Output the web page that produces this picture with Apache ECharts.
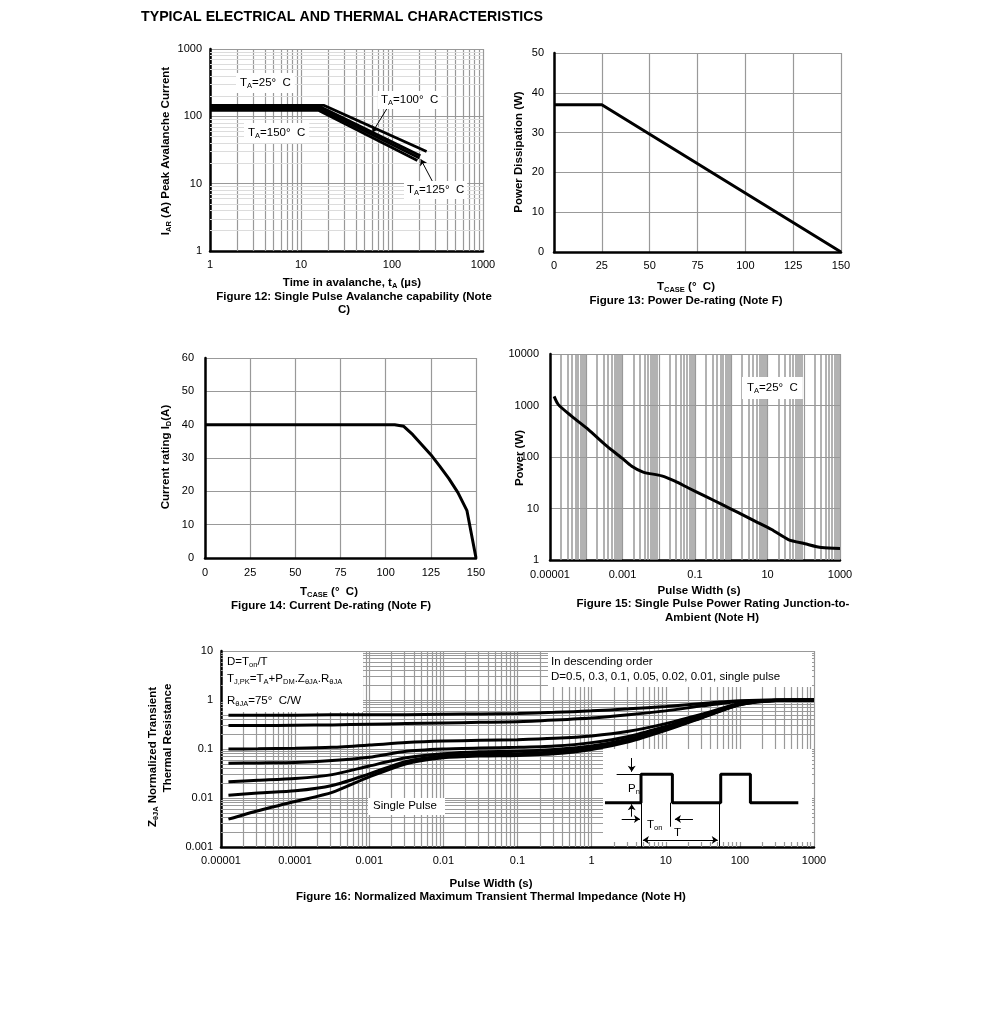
<!DOCTYPE html>
<html><head><meta charset="utf-8">
<script src="https://cdn.jsdelivr.net/npm/echarts@6/dist/echarts.min.js"></script>
<style>html,body{margin:0;padding:0;background:#fff}#c{width:991px;height:1011px}</style>
</head><body><div id="c"></div>
<script>
const FONT = '"Liberation Sans", Arial, Helvetica, sans-serif';

// ---------- Figure 12: avalanche ----------
const avalanche25 = [[1, 145], [18, 145], [240, 30]];
const avalanche100 = [[1, 137], [16.5, 137], [205, 26]];
const avalanche125 = [[1, 130], [16, 130], [200, 24]];
const avalanche150 = [[1, 123], [15.5, 123], [190, 22]];
const avalancheTicksX = ['1', '10', '100', '1000'];
const avalancheTicksY = ['1', '10', '100', '1000'];
const avalancheArrows = [
  [[90, 137], [61, 58]],
  [[300, 8.9], [207, 23]]
];

// ---------- Figure 13: power de-rating ----------
const powerTemp = [0, 25, 150];
const powerW = [37, 37, 0];

// ---------- Figure 14: current de-rating ----------
const currentTemp = [0, 105, 110, 115, 120, 125, 130, 135, 140, 145, 150];
const currentA = [40, 40, 39.5, 37, 34, 31, 27.5, 23.8, 19.6, 14.2, 0];

// ---------- Figure 15: single pulse power ----------
const pulseW15 = [1.3e-5, 1.7e-5, 4e-5, 1.15e-4, 3.3e-4, 9.5e-4, 1.8e-3, 3.7e-3, 0.012, 0.028, 0.066, 0.19, 0.55, 1.57, 4.5, 13, 37.6, 108, 309, 1000];
const power15 = [1500, 1040, 615, 340, 174, 96, 66, 51, 43, 34, 25, 17.4, 12, 8.3, 5.7, 3.9, 2.5, 2.07, 1.74, 1.68];
const ticks15X = ['0.00001', '', '0.001', '', '0.1', '', '10', '', '1000'];
const ticks15Y = ['1', '10', '100', '1000', '10000'];

// ---------- Figure 16: transient thermal impedance ----------
const pulseW16 = [1.26e-5, 3.16e-5, 1e-4, 3.16e-4, 1e-3, 3.16e-3, 0.01, 0.0316, 0.1, 0.316, 1, 3.16, 10, 31.6, 100, 316, 1000];
const zD05 = [0.49, 0.49, 0.49, 0.50, 0.50, 0.50, 0.51, 0.52, 0.53, 0.56, 0.60, 0.66, 0.74, 0.85, 0.96, 1.0, 1.0];
const zD03 = [0.30, 0.30, 0.305, 0.31, 0.32, 0.33, 0.34, 0.35, 0.36, 0.39, 0.43, 0.50, 0.60, 0.76, 0.93, 1.0, 1.0];
const zD01 = [0.100, 0.101, 0.103, 0.108, 0.12, 0.135, 0.145, 0.15, 0.155, 0.165, 0.185, 0.23, 0.33, 0.52, 0.85, 0.99, 1.0];
const zD005 = [0.051, 0.052, 0.053, 0.058, 0.068, 0.09, 0.10, 0.105, 0.108, 0.115, 0.135, 0.18, 0.29, 0.49, 0.83, 0.99, 1.0];
const zD002 = [0.0215, 0.023, 0.025, 0.030, 0.045, 0.066, 0.08, 0.088, 0.09, 0.098, 0.115, 0.16, 0.26, 0.46, 0.82, 0.99, 1.0];
const zD001 = [0.0114, 0.0127, 0.014, 0.018, 0.031, 0.056, 0.072, 0.078, 0.08, 0.088, 0.105, 0.15, 0.25, 0.45, 0.81, 0.98, 1.0];
const zSingle = [0.0037, 0.0055, 0.0085, 0.013, 0.027, 0.05, 0.066, 0.072, 0.074, 0.08, 0.098, 0.14, 0.24, 0.44, 0.80, 0.98, 1.0];
const ticks16X = ['0.00001', '0.0001', '0.001', '0.01', '0.1', '1', '10', '100', '1000'];
const ticks16Y = ['0.001', '0.01', '0.1', '1', '10'];

// inset pulse schematic (inset units 0..100)
const insetPulse = [[1.4, 45.2], [18.4, 45.2], [18.4, 74.2], [33.2, 74.2], [33.2, 45.2], [56, 45.2], [56, 74.2], [70, 74.2], [70, 45.2], [92.6, 45.2]];
const insetPlainLines = [
  [[6.9, 74.2], [18.4, 74.2]],
  [[18.4, 45.2], [18.4, 0]],
  [[32.4, 45.2], [32.4, 20.7]],
  [[55.2, 45.2], [55.2, 1]]
];
const insetArrowLines = [
  [[14, 90.8], [14, 76.8]],
  [[14, 30.9], [14, 43.6]],
  [[9.3, 28.6], [17.9, 28.6]],
  [[42.9, 28.6], [34.4, 28.6]]
];
const insetDoubleArrow = [[[19.3, 7.1], [54.6, 7.1]]];

// ---------- helpers ----------
const LBL = { color: '#000', fontSize: 11, fontFamily: FONT };
const RICH = {
  r: { fontSize: 11.5, fontFamily: FONT, color: '#000', lineHeight: 14 },
  s: { fontSize: 7.5, fontFamily: FONT, color: '#000', lineHeight: 8, verticalAlign: 'bottom' },
  b: { fontSize: 11.5, fontFamily: FONT, fontWeight: 'bold', color: '#000', lineHeight: 14 },
  bs: { fontSize: 7.5, fontFamily: FONT, fontWeight: 'bold', color: '#000', lineHeight: 8, verticalAlign: 'bottom' }
};
function minorVals(e0, e1) {
  const out = [];
  for (let e = e0; e < e1; e++) for (let k = 2; k <= 9; k++) out.push(k * Math.pow(10, e));
  return out;
}
const AXLINE = { show: true, onZero: false, lineStyle: { color: '#000', width: 2.5 } };
function logAxis(gi, e0, e1, labels, margin, split) {
  return {
    type: 'log', logBase: 10, gridIndex: gi, min: Math.pow(10, e0), max: Math.pow(10, e1),
    axisLine: AXLINE, axisTick: { show: false },
    splitLine: { show: true, lineStyle: { color: split || '#999', width: 1.2 } },
    axisLabel: Object.assign({}, LBL, {
      margin: margin,
      formatter: v => { const i = Math.round(Math.log10(v)) - e0; return labels[i] !== undefined ? labels[i] : ''; }
    })
  };
}
function valAxis(gi, min, max, interval, margin) {
  return {
    type: 'value', gridIndex: gi, min, max, interval,
    axisLine: AXLINE, axisTick: { show: false },
    splitLine: { show: true, lineStyle: { color: '#999', width: 1.2 } },
    axisLabel: Object.assign({}, LBL, { margin })
  };
}
// minor log grid lines drawn as segments through the axis scales
function gridLines(ai, vals, dim, lo, hi, color, width) {
  return {
    type: 'lines', coordinateSystem: 'cartesian2d', xAxisIndex: ai, yAxisIndex: ai, z: 1, silent: true,
    symbol: ['none', 'none'], animation: false,
    lineStyle: { color, width, opacity: 1 },
    data: vals.map(v => ({ coords: dim === 'x' ? [[v, lo], [v, hi]] : [[lo, v], [hi, v]] }))
  };
}
function curve(ai, data, width, smooth) {
  return {
    type: 'line', xAxisIndex: ai, yAxisIndex: ai, data, symbol: 'none', z: 5, silent: true,
    smooth: smooth ? smooth : false,
    lineStyle: { color: '#000', width: width }, animation: false
  };
}
function zip(xs, ys) { return xs.map((x, i) => [x, ys[i]]); }
function linesSeries(ai, segs, sym, width) {
  return {
    type: 'lines', coordinateSystem: 'cartesian2d', xAxisIndex: ai, yAxisIndex: ai, z: 7, silent: true,
    symbol: sym, symbolSize: 6, animation: false,
    lineStyle: { color: '#000', width: width || 1, opacity: 1 },
    data: segs.map(c => ({ coords: c }))
  };
}
function T(x, y, text, o) {
  o = o || {};
  const st = {
    text, rich: RICH, fill: '#000',
    font: o.font || ('11.5px ' + FONT),
    textAlign: o.align || 'left', textVerticalAlign: 'middle',
    align: o.align || 'left', verticalAlign: 'middle'
  };
  if (o.bg) { st.backgroundColor = o.bg; st.padding = o.pad || [3, 3]; }
  return { type: 'text', x, y, z: 10, rotation: o.rot || 0, silent: true, style: st };
}
function R(x, y, w, h) {
  return { type: 'rect', z: 3, silent: true, shape: { x, y, width: w, height: h }, style: { fill: '#fff' } };
}
const BOLD = 'bold 11.5px ' + FONT;

const option = {
  backgroundColor: '#fff',
  animation: false,
  grid: [
    { left: 210, top: 49, width: 273, height: 202 },
    { left: 554, top: 53, width: 287, height: 199 },
    { left: 205, top: 358, width: 271, height: 200 },
    { left: 550, top: 354, width: 290, height: 206 },
    { left: 221, top: 651, width: 593, height: 196 },
    { left: 602, top: 749, width: 212, height: 98 }
  ],
  xAxis: [
    logAxis(0, 0, 3, avalancheTicksX, 8),
    valAxis(1, 0, 150, 25, 8),
    valAxis(2, 0, 150, 25, 9),
    logAxis(3, -5, 3, ticks15X, 9),
    logAxis(4, -5, 3, ticks16X, 8),
    { type: 'value', gridIndex: 5, min: 0, max: 100, show: false }
  ],
  yAxis: [
    logAxis(0, 0, 3, avalancheTicksY, 8),
    valAxis(1, 0, 50, 10, 10),
    valAxis(2, 0, 60, 10, 11),
    logAxis(3, 0, 4, ticks15Y, 11),
    logAxis(4, -3, 1, ticks16Y, 8),
    { type: 'value', gridIndex: 5, min: 0, max: 100, show: false }
  ],
  series: [
    // minor grid lines
    gridLines(0, minorVals(0, 3), 'x', 1, 1000, '#999', 1.2),
    gridLines(0, minorVals(0, 3), 'y', 1, 1000, '#dcdcdc', 1),
    gridLines(3, minorVals(-5, 3), 'x', 1, 10000, '#999', 1.5),
    gridLines(4, minorVals(-5, 3), 'x', 0.001, 10, '#9a9a9a', 1.2),
    gridLines(4, minorVals(-3, 1), 'y', 1e-5, 1000, '#9a9a9a', 1.2),
    // fig 12
    curve(0, avalanche25, 2.8),
    curve(0, avalanche100, 2.8),
    curve(0, avalanche125, 2.8),
    curve(0, avalanche150, 2.8),
    linesSeries(0, avalancheArrows, ['none', 'arrow'], 1),
    // fig 13
    curve(1, zip(powerTemp, powerW), 3),
    // fig 14
    curve(2, zip(currentTemp, currentA), 3),
    // fig 15
    curve(3, zip(pulseW15, power15), 3, 0.25),
    // fig 16
    curve(4, zip(pulseW16, zD05), 3, 0.25),
    curve(4, zip(pulseW16, zD03), 3, 0.25),
    curve(4, zip(pulseW16, zD01), 3, 0.25),
    curve(4, zip(pulseW16, zD005), 3, 0.25),
    curve(4, zip(pulseW16, zD002), 3, 0.25),
    curve(4, zip(pulseW16, zD001), 3, 0.25),
    curve(4, zip(pulseW16, zSingle), 3, 0.25),
    // inset
    Object.assign(curve(5, insetPulse, 3), { z: 7 }),
    linesSeries(5, insetPlainLines, ['none', 'none'], 1),
    linesSeries(5, insetArrowLines, ['none', 'arrow'], 1),
    linesSeries(5, insetDoubleArrow, ['arrow', 'arrow'], 1)
  ],
  graphic: { elements: [
    T(141, 17, 'TYPICAL ELECTRICAL AND THERMAL CHARACTERISTICS', { font: 'bold 14.2px ' + FONT }),
    // fig 12
    T(166, 151, '{b|I}{bs|AR}{b| (A) Peak Avalanche Current}', { font: BOLD, align: 'center', rot: Math.PI / 2 }),
    T(352, 283, '{b|Time in avalanche, t}{bs|A}{b| (µs)}', { font: BOLD, align: 'center' }),
    T(354, 297, 'Figure 12: Single Pulse Avalanche capability (Note', { font: BOLD, align: 'center' }),
    T(344, 310, 'C)', { font: BOLD, align: 'center' }),
    T(236, 83, '{r|T}{s|A}{r|=25°  C}', { bg: '#fff', pad: [3, 4] }),
    T(378, 100, '{r|T}{s|A}{r|=100°  C}', { bg: '#fff', pad: [2, 3] }),
    T(244, 133, '{r|T}{s|A}{r|=150°  C}', { bg: '#fff', pad: [3, 4] }),
    T(404, 190, '{r|T}{s|A}{r|=125°  C}', { bg: '#fff', pad: [2, 3] }),
    // fig 13
    T(519, 152, 'Power Dissipation (W)', { font: BOLD, align: 'center', rot: Math.PI / 2 }),
    T(686, 287, '{b|T}{bs|CASE}{b| (°  C)}', { font: BOLD, align: 'center' }),
    T(686, 301, 'Figure 13: Power De-rating (Note F)', { font: BOLD, align: 'center' }),
    // fig 14
    T(166, 457, '{b|Current rating I}{bs|D}{b|(A)}', { font: BOLD, align: 'center', rot: Math.PI / 2 }),
    T(329, 592, '{b|T}{bs|CASE}{b| (°  C)}', { font: BOLD, align: 'center' }),
    T(331, 606, 'Figure 14: Current De-rating (Note F)', { font: BOLD, align: 'center' }),
    // fig 15
    T(520, 458, 'Power (W)', { font: BOLD, align: 'center', rot: Math.PI / 2 }),
    T(699, 591, 'Pulse Width (s)', { font: BOLD, align: 'center' }),
    T(713, 604, 'Figure 15: Single Pulse Power Rating Junction-to-', { font: BOLD, align: 'center' }),
    T(712, 618, 'Ambient (Note H)', { font: BOLD, align: 'center' }),
    T(742, 388, '{r|T}{s|A}{r|=25°  C}', { bg: '#fff', pad: [4, 5] }),
    // fig 16
    R(223, 652, 140, 60),
    R(548, 652, 264, 35),
    R(368, 798, 77, 17),
    R(603, 749, 209, 93),
    T(153, 757, '{b|Z}{bs|θJA}{b| Normalized Transient}', { font: BOLD, align: 'center', rot: Math.PI / 2 }),
    T(168, 738, 'Thermal Resistance', { font: BOLD, align: 'center', rot: Math.PI / 2 }),
    T(491, 884, 'Pulse Width (s)', { font: BOLD, align: 'center' }),
    T(491, 897, 'Figure 16: Normalized Maximum Transient Thermal Impedance (Note H)', { font: BOLD, align: 'center' }),
    T(227, 662, '{r|D=T}{s|on}{r|/T}'),
    T(227, 679, '{r|T}{s|J,PK}{r|=T}{s|A}{r|+P}{s|DM}{r|.Z}{s|θJA}{r|.R}{s|θJA}'),
    T(227, 701, '{r|R}{s|θJA}{r|=75°  C/W}'),
    T(551, 662, 'In descending order'),
    T(551, 677, 'D=0.5, 0.3, 0.1, 0.05, 0.02, 0.01, single pulse'),
    T(373, 806, 'Single Pulse'),
    T(628, 789, '{r|P}{s|n}'),
    T(647, 825, '{r|T}{s|on}'),
    T(674, 833, 'T')
  ] }
};

const chart = echarts.init(document.getElementById('c'), null, { renderer: 'canvas' });
chart.setOption(option);
</script>
</body></html>
